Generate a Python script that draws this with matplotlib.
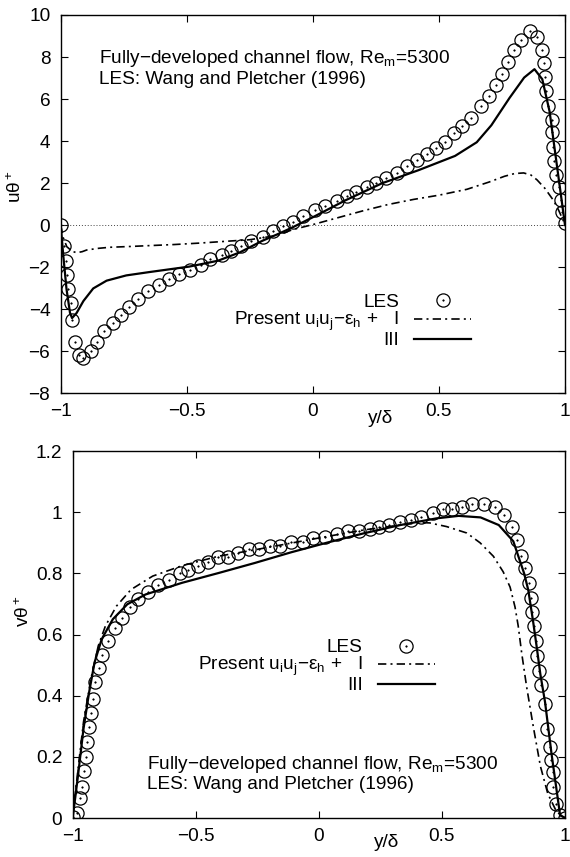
import matplotlib
matplotlib.use('Agg')
import matplotlib.pyplot as plt
from matplotlib.legend_handler import HandlerTuple

plt.rcParams['font.family'] = ['Liberation Sans', 'DejaVu Sans']
plt.rcParams['mathtext.fontset'] = 'custom'
plt.rcParams['mathtext.rm'] = 'Liberation Sans'
plt.rcParams['mathtext.it'] = 'Liberation Sans:italic'
plt.rcParams['mathtext.default'] = 'regular'
plt.rcParams['axes.unicode_minus'] = True

# ---------------- data: top panel (u theta+) ----------------
les_top_x = [-0.997, -0.986, -0.978, -0.975, -0.973, -0.961, -0.957, -0.945, -0.928, -0.913,
             -0.881, -0.855, -0.828, -0.792, -0.762, -0.728, -0.694, -0.655, -0.611, -0.571,
             -0.530, -0.486, -0.444, -0.408, -0.360, -0.324, -0.286, -0.244, -0.199, -0.159,
             -0.118, -0.079, -0.039, 0.009, 0.048, 0.094, 0.134, 0.171, 0.214, 0.250,
             0.292, 0.332, 0.373, 0.412, 0.451, 0.488, 0.523, 0.561, 0.592, 0.629,
             0.668, 0.698, 0.725, 0.751, 0.773, 0.798, 0.824, 0.860, 0.889, 0.908,
             0.915, 0.921, 0.925, 0.932, 0.947, 0.950, 0.954, 0.956, 0.964, 0.978,
             0.983, 0.987, 1.0]
les_top_u = [0.0, -1.0, -1.70, -2.38, -3.06, -3.73, -4.54, -5.59, -6.19, -6.35,
             -6.0, -5.59, -5.06, -4.65, -4.29, -3.92, -3.52, -3.16, -2.87, -2.59,
             -2.35, -2.14, -1.90, -1.62, -1.44, -1.22, -1.0, -0.76, -0.55, -0.28,
             -0.03, 0.13, 0.41, 0.70, 0.89, 1.13, 1.38, 1.59, 1.80, 1.99,
             2.24, 2.48, 2.80, 3.10, 3.37, 3.66, 3.97, 4.39, 4.72, 5.11,
             5.69, 6.13, 6.65, 7.18, 7.75, 8.31, 8.80, 9.25, 8.93, 8.35,
             7.70, 7.05, 6.40, 5.67, 5.02, 4.42, 3.70, 3.05, 2.40, 1.83,
             1.18, 0.62, 0.08]

m1_top_x = [-1.0, -0.99, -0.976, -0.955, -0.937, -0.915, -0.897, -0.85, -0.805, -0.72,
            -0.646, -0.55, -0.448, -0.35, -0.25, -0.143, -0.08, 0.0, 0.1, 0.2,
            0.3, 0.4, 0.5, 0.611, 0.7, 0.76, 0.8, 0.836, 0.865, 0.889,
            0.92, 0.955, 0.975, 0.994, 1.0]
m1_top_u = [0.0, -0.6, -1.03, -1.25, -1.32, -1.27, -1.19, -1.11, -1.06, -1.02,
            -0.98, -0.93, -0.86, -0.78, -0.70, -0.50, -0.22, 0.02, 0.35, 0.68,
            0.98, 1.22, 1.42, 1.70, 2.05, 2.32, 2.45, 2.48, 2.38, 2.15,
            1.75, 1.16, 0.70, 0.19, 0.0]

m3_top_x = [-1.0, -0.99, -0.977, -0.963, -0.955, -0.937, -0.91, -0.871, -0.818, -0.74,
            -0.648, -0.49, -0.376, -0.289, -0.2, -0.144, -0.087, 0.0, 0.13, 0.275,
            0.419, 0.564, 0.65, 0.708, 0.78, 0.838, 0.879, 0.91, 0.939, 0.961,
            0.983, 1.0]
m3_top_u = [0.0, -1.43, -3.05, -4.19, -4.43, -4.19, -3.62, -3.02, -2.65, -2.40,
            -2.24, -1.98, -1.70, -1.30, -0.75, -0.46, -0.15, 0.37, 1.18, 1.99,
            2.61, 3.29, 3.94, 4.75, 6.05, 7.02, 7.42, 6.94, 5.40, 3.45,
            1.51, 0.0]

# ---------------- data: bottom panel (v theta+) ----------------
les_bot_x = [-0.997, -0.981, -0.970, -0.962, -0.954, -0.947, -0.941, -0.933, -0.926, -0.917,
             -0.911, -0.893, -0.882, -0.855, -0.828, -0.800, -0.769, -0.734, -0.695, -0.655,
             -0.609, -0.565, -0.531, -0.490, -0.450, -0.408, -0.367, -0.327, -0.283, -0.243,
             -0.197, -0.157, -0.112, -0.064, -0.024, 0.024, 0.072, 0.117, 0.164, 0.206,
             0.243, 0.287, 0.331, 0.373, 0.417, 0.464, 0.504, 0.543, 0.580, 0.624,
             0.672, 0.716, 0.753, 0.783, 0.805, 0.822, 0.837, 0.852, 0.861, 0.867,
             0.876, 0.883, 0.886, 0.896, 0.904, 0.918, 0.925, 0.938, 0.942, 0.950,
             0.953, 0.964, 0.978, 1.0]
les_bot_v = [0.002, 0.018, 0.067, 0.103, 0.154, 0.200, 0.247, 0.298, 0.345, 0.389,
             0.445, 0.489, 0.532, 0.579, 0.621, 0.653, 0.690, 0.717, 0.740, 0.762,
             0.778, 0.800, 0.810, 0.825, 0.837, 0.854, 0.854, 0.867, 0.880, 0.880,
             0.888, 0.888, 0.902, 0.902, 0.914, 0.918, 0.929, 0.937, 0.937, 0.945,
             0.951, 0.958, 0.968, 0.976, 0.983, 0.996, 1.009, 1.009, 1.017, 1.027,
             1.027, 1.018, 0.991, 0.953, 0.910, 0.858, 0.818, 0.767, 0.720, 0.674,
             0.628, 0.579, 0.530, 0.481, 0.434, 0.373, 0.292, 0.233, 0.190, 0.149,
             0.100, 0.046, 0.011, 0.0]

m1_bot_x = [-1.0, -0.978, -0.956, -0.926, -0.896, -0.867, -0.822, -0.763, -0.675, -0.556,
            -0.408, -0.260, -0.112, 0.036, 0.183, 0.331, 0.414, 0.45, 0.519, 0.601,
            0.655, 0.709, 0.749, 0.777, 0.797, 0.810, 0.824, 0.844, 0.871, 0.90,
            0.93, 0.966, 1.0]
m1_bot_v = [0.0, 0.162, 0.314, 0.455, 0.563, 0.628, 0.693, 0.747, 0.791, 0.825,
            0.856, 0.877, 0.899, 0.921, 0.942, 0.958, 0.966, 0.965, 0.953, 0.932,
            0.900, 0.856, 0.805, 0.755, 0.690, 0.628, 0.54, 0.43, 0.30, 0.17,
            0.08, 0.02, 0.0]

m3_bot_x = [-1.0, -0.978, -0.956, -0.933, -0.911, -0.882, -0.837, -0.778, -0.704, -0.556,
            -0.408, -0.260, -0.112, 0.036, 0.183, 0.331, 0.479, 0.568, 0.657, 0.731,
            0.790, 0.834, 0.851, 0.871, 0.885, 0.90, 0.919, 0.946, 0.98, 1.0]
m3_bot_v = [0.0, 0.141, 0.292, 0.412, 0.509, 0.585, 0.650, 0.699, 0.731, 0.769,
            0.801, 0.834, 0.869, 0.901, 0.931, 0.958, 0.980, 0.988, 0.983, 0.958,
            0.905, 0.80, 0.745, 0.64, 0.56, 0.47, 0.379, 0.206, 0.01, 0.0]

# ---------------- ticks / labels ----------------
x_ticks = [-1, -0.5, 0, 0.5, 1]
x_ticklabels = ['\u22121', '\u22120.5', '0', '0.5', '1']
top_yticks = [-8, -6, -4, -2, 0, 2, 4, 6, 8, 10]
top_yticklabels = ['\u22128', '\u22126', '\u22124', '\u22122', '0', '2', '4', '6', '8', '10']
bot_yticks = [0, 0.2, 0.4, 0.6, 0.8, 1.0, 1.2]
bot_yticklabels = ['0', '0.2', '0.4', '0.6', '0.8', '1', '1.2']

legend_labels = ['LES', 'Present u$_i$u$_j$\u2212\u03b5$_h$ +   I', 'III']
note_line1 = 'Fully\u2212developed channel flow, Re$_m$=5300'
note_line2 = 'LES: Wang and Pletcher (1996)'

FS = 13.7
fig = plt.figure(figsize=(5.70, 8.57), dpi=100)
ax1 = fig.add_axes([0.1065, 0.5414, 0.8847, 0.4411])
ax2 = fig.add_axes([0.1275, 0.0455, 0.8637, 0.4282])


def style(ax, xt, xtl, yt, ytl, xlim, ylim):
    ax.set_xlim(*xlim)
    ax.set_ylim(*ylim)
    ax.set_xticks(xt)
    ax.set_xticklabels(xtl)
    ax.set_yticks(yt)
    ax.set_yticklabels(ytl)
    ax.tick_params(direction='in', length=5, width=0.8, top=True, right=True,
                   labelsize=FS)
    ax.tick_params(axis='x', pad=7.5)
    ax.tick_params(axis='y', pad=7.5)
    for s in ax.spines.values():
        s.set_linewidth(1.0)


def draw(ax, lx, ly, x1, y1, x3, y3, anchor):
    hc, = ax.plot(lx, ly, ls='none', marker='o', mfc='none', mec='k', ms=9.5, mew=0.9)
    hd, = ax.plot(lx, ly, ls='none', marker='o', mfc='k', mec='k', ms=1.2, mew=0.3)
    h1, = ax.plot(x1, y1, color='k', lw=1.2, dashes=(5, 2.5, 1.2, 2.5))
    h3, = ax.plot(x3, y3, color='k', lw=1.6)
    ax.legend([(hc, hd), h1, h3], legend_labels,
              handler_map={tuple: HandlerTuple(ndivide=1)},
              markerfirst=False, frameon=False, loc='center right',
              bbox_to_anchor=anchor, borderpad=0, borderaxespad=0,
              handlelength=3.0, handletextpad=0.8, labelspacing=-0.05,
              handleheight=0.5, numpoints=1, fontsize=FS)


# top panel
style(ax1, x_ticks, x_ticklabels, top_yticks, top_yticklabels, (-1, 1), (-8, 10))
ax1.axhline(0, color='#444444', lw=0.7, ls=(0, (1, 2)))
draw(ax1, les_top_x, les_top_u, m1_top_x, m1_top_u, m3_top_x, m3_top_u, (0.814, 0.19))
ax1.text(-0.847, 7.72, note_line1, fontsize=FS, va='baseline')
ax1.text(-0.847, 6.72, note_line2, fontsize=FS, va='baseline')
ax1.set_ylabel('u\u03b8$^+$', fontsize=FS)
ax1.yaxis.set_label_coords(-0.070, 0.545)
ax1.set_xlabel('y/\u03b4', fontsize=FS)
ax1.xaxis.set_label_coords(0.635, -0.045)

# bottom panel
style(ax2, x_ticks, x_ticklabels, bot_yticks, bot_yticklabels, (-1, 1), (0, 1.2))
draw(ax2, les_bot_x, les_bot_v, m1_bot_x, m1_bot_v, m3_bot_x, m3_bot_v, (0.736, 0.4125))
ax2.text(-0.697, 0.161, note_line1, fontsize=FS, va='baseline')
ax2.text(-0.697, 0.096, note_line2, fontsize=FS, va='baseline')
ax2.set_ylabel('v\u03b8$^+$', fontsize=FS)
ax2.yaxis.set_label_coords(-0.080, 0.564)
ax2.set_xlabel('y/\u03b4', fontsize=FS)
ax2.xaxis.set_label_coords(0.638, -0.043)

fig.savefig('out.png', dpi=100)
